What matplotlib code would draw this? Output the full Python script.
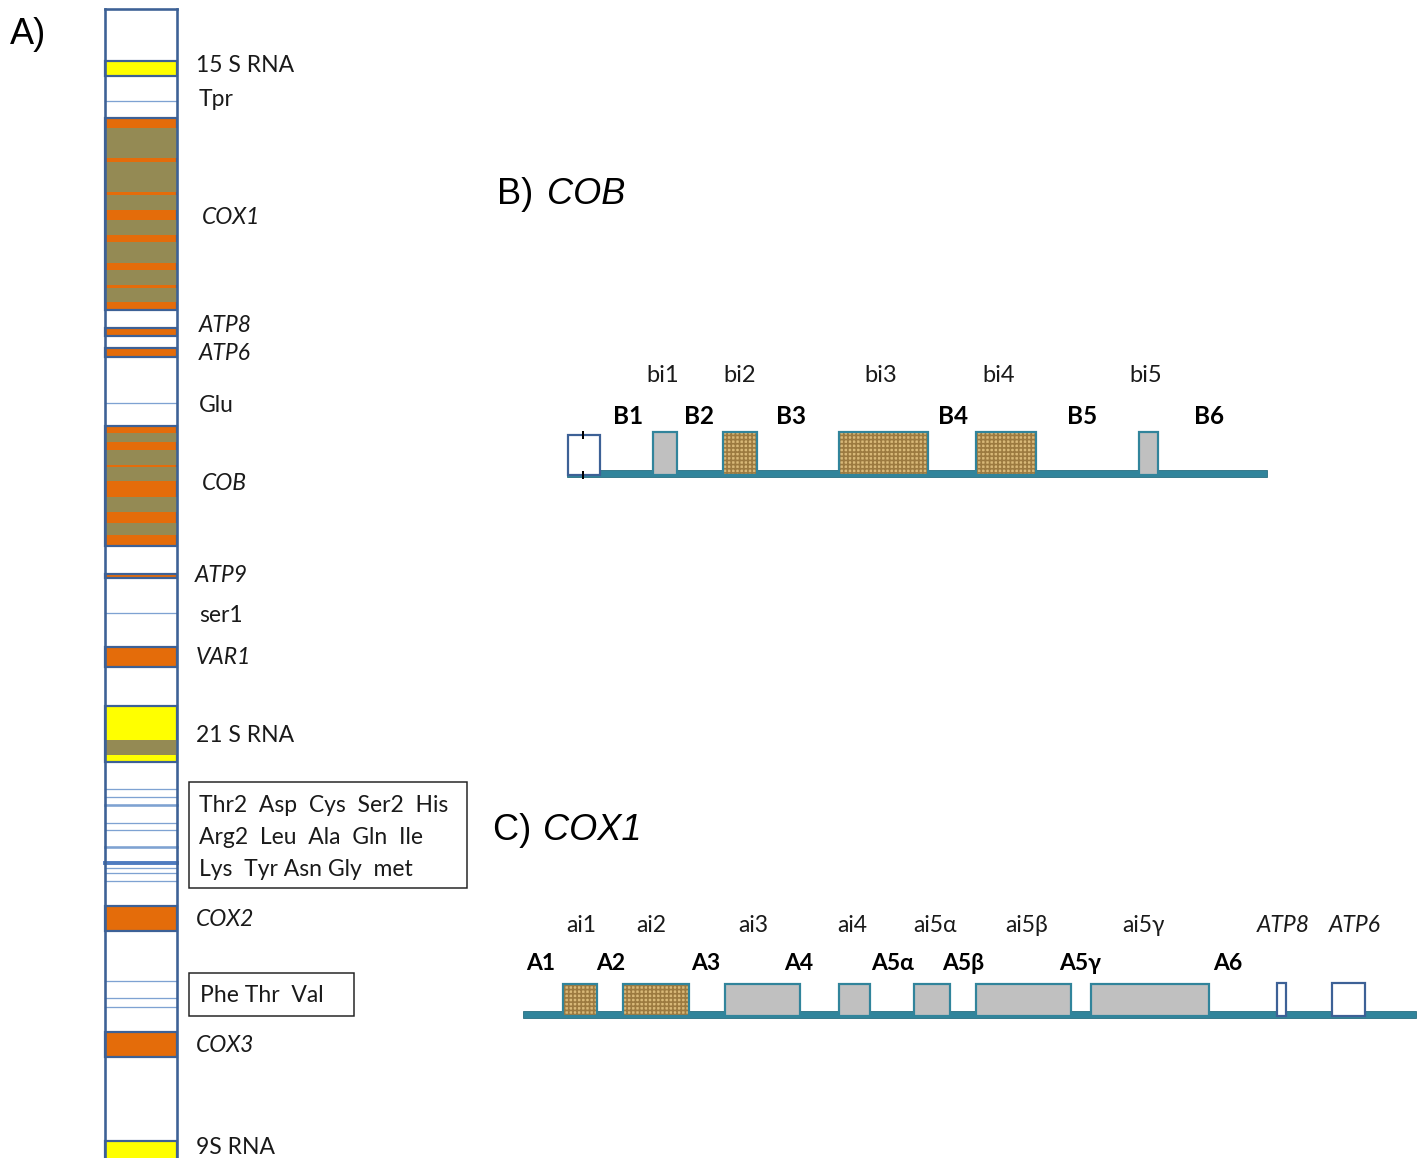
import matplotlib
matplotlib.use("Agg")
import matplotlib.pyplot as plt
from matplotlib.patches import Rectangle

# ---- data -------------------------------------------------------------
# A) mitochondrial map, coordinates along the bar (pixel units of the map)
gene_names = ['15S', 'COX1', 'ATP8', 'ATP6', 'COB', 'ATP9', 'VAR1', '21S', 'COX2', 'COX3', '9S']
gene_start = [61, 118, 328, 348, 426, 574, 647, 706, 906, 1032, 1141]
gene_end = [76, 310, 336, 357, 546, 578, 667, 762, 931, 1057, 1162]
gene_kind = ['rna', 'protein', 'protein', 'protein', 'protein', 'protein', 'protein',
             'rna', 'protein', 'protein', 'rna']

# intron stripes inside genes (start, end)
intron_start = [128, 162, 195, 220, 242, 270, 288, 433, 450, 467, 497, 523, 740]
intron_end = [158, 192, 210, 235, 263, 285, 302, 442, 465, 481, 512, 535, 755]

# tRNA genes (thin lines), and their stroke weight
trna_pos = [101, 403, 613, 789, 797, 805, 823, 830, 847, 863, 868, 873, 881, 981, 998, 1007]
trna_weight = [1, 1, 1, 1, 1, 2, 1, 1, 2, 3, 1, 1, 1, 1, 1, 1]

map_labels = ['15 S RNA', 'Tpr', 'COX1', 'ATP8', 'ATP6', 'Glu', 'COB', 'ATP9',
              'ser1', 'VAR1', '21 S RNA', 'COX2', 'COX3', '9S RNA']
map_label_italic = [False, False, True, True, True, False, True, True,
                    False, True, False, True, True, False]
trna_box1 = ['Thr2  Asp  Cys  Ser2  His', 'Arg2  Leu  Ala  Gln  Ile', 'Lys  Tyr Asn Gly  met']
trna_box2 = ['Phe Thr  Val']

# B) COB gene
cob_exons = ['B1', 'B2', 'B3', 'B4', 'B5', 'B6']
cob_introns = ['bi1', 'bi2', 'bi3', 'bi4', 'bi5']
cob_intron_start = [653, 723, 839, 976, 1139]
cob_intron_end = [677, 757, 928, 1036, 1158]
cob_intron_orf = [False, True, True, True, False]

# C) COX1 gene
cox1_exons = ['A1', 'A2', 'A3', 'A4', 'A5α', 'A5β', 'A5γ', 'A6']
cox1_introns = ['ai1', 'ai2', 'ai3', 'ai4', 'ai5α', 'ai5β', 'ai5γ']
cox1_intron_start = [563, 623, 725, 839, 914, 976, 1091]
cox1_intron_end = [597, 689, 800, 870, 950, 1071, 1209]
cox1_intron_orf = [True, True, False, False, False, False, False]
cox1_next_genes = ['ATP8', 'ATP6']
cox1_next_start = [1277, 1332]
cox1_next_end = [1286, 1365]

# ---- styles -----------------------------------------------------------
ORANGE = '#E46C0A'
OLIVE = '#948A54'
YELLOW = '#FFFF00'
NAVY = '#3D6196'
LIGHTBLUE = '#7EA2D2'
TEAL = '#31849B'
GRAY = '#C0C0C0'
BURLAP = '#D8B878'
BURLAP_DARK = '#9C7A40'
PX = 0.72  # one pixel in points at dpi 100

plt.rcParams['hatch.linewidth'] = 1.2
FONT = ['Lato', 'DejaVu Sans']

fig = plt.figure(figsize=(14.26, 11.58), dpi=100)
ax = fig.add_axes([0, 0, 1, 1])
ax.set_xlim(0, 1426)
ax.set_ylim(1158, 0)
ax.axis('off')

# ---- A) map bar -------------------------------------------------------
bx0, bx1 = 105, 177
ax.add_patch(Rectangle((bx0, 9), bx1 - bx0, 1160, fc='white', ec='none', zorder=1))
for y, w in zip(trna_pos, trna_weight):
    ax.plot([bx0, bx1], [y, y], color=LIGHTBLUE if w < 3 else '#4F7CC0',
            lw=w * 1.3 * PX, zorder=2)
for s, e, k in zip(gene_start, gene_end, gene_kind):
    ax.add_patch(Rectangle((bx0, s), bx1 - bx0, e - s,
                           fc=YELLOW if k == 'rna' else ORANGE,
                           ec=NAVY, lw=2.2 * PX, zorder=3))
for s, e in zip(intron_start, intron_end):
    ax.add_patch(Rectangle((bx0, s), bx1 - bx0, e - s, fc=OLIVE, ec='none', zorder=4))
ax.plot([bx0, bx0], [9, 1170], color=NAVY, lw=2.6 * PX, zorder=5)
ax.plot([bx1, bx1], [9, 1170], color=NAVY, lw=2.6 * PX, zorder=5)
ax.plot([bx0, bx1], [9, 9], color=NAVY, lw=2.6 * PX, zorder=5)

label_x = [196, 199, 202, 199, 199, 199, 202, 195, 199, 196, 196, 196, 196, 196]
label_y = [66, 99, 217, 325, 353, 405, 484, 576, 615, 657, 736, 920, 1046, 1147]
for t, it, x, y in zip(map_labels, map_label_italic, label_x, label_y):
    ax.text(x, y, t, fontsize=16.5, family=FONT, style='italic' if it else 'normal',
            ha='left', va='center', color='#1a1a1a')

ax.add_patch(Rectangle((189, 782), 278, 106, fc='none', ec='#222222', lw=1.5 * PX))
for i, t in enumerate(trna_box1):
    ax.text(199, 805 + 32 * i, t, fontsize=16.5, family=FONT, ha='left', va='center',
            color='#1a1a1a')
ax.add_patch(Rectangle((189, 973), 165, 43, fc='none', ec='#222222', lw=1.5 * PX))
ax.text(200, 996, trna_box2[0], fontsize=16.5, family=FONT, ha='left', va='center',
        color='#1a1a1a')

ax.text(10, 34, 'A)', fontsize=26, family='Liberation Sans', ha='left', va='center')


# ---- gene structure helper ------------------------------------------------
def draw_intron(x0, x1, top, bottom, orf):
    if orf:
        ax.add_patch(Rectangle((x0, top), x1 - x0, bottom - top, fc=BURLAP,
                               ec=BURLAP_DARK, lw=0, hatch='++++', zorder=3))
        ax.add_patch(Rectangle((x0, top), x1 - x0, bottom - top, fc='none',
                               ec=TEAL, lw=2.2 * PX, zorder=4))
    else:
        ax.add_patch(Rectangle((x0, top), x1 - x0, bottom - top, fc=GRAY,
                               ec=TEAL, lw=2.2 * PX, zorder=3))


def draw_backbone(x0, x1, y):
    ax.add_patch(Rectangle((x0, y - 3.5), x1 - x0, 7, fc=TEAL, ec='#236A7C',
                           lw=0.8 * PX, zorder=2))


# ---- B) COB -------------------------------------------------------------
ax.text(497, 195, 'B) ', fontsize=26, family='Liberation Sans', ha='left', va='center')
ax.text(547, 195, 'COB', fontsize=26, family='Liberation Sans', style='italic',
        ha='left', va='center')
draw_backbone(567, 1267, 473)
ax.add_patch(Rectangle((568, 435), 32, 40, fc='white', ec=NAVY, lw=2.2 * PX, zorder=3))
ax.plot([583, 583], [432, 438], color='black', lw=2 * PX, zorder=4)
ax.plot([583, 583], [472, 478], color='black', lw=2 * PX, zorder=4)
for s, e, orf in zip(cob_intron_start, cob_intron_end, cob_intron_orf):
    draw_intron(s, e, 432, 475, orf)

bi_x = [663, 740, 881, 999, 1146]
for t, x in zip(cob_introns, bi_x):
    ax.text(x, 375, t, fontsize=17, family=FONT, ha='center', va='center', color='#1a1a1a')
b_x = [628, 699, 791, 953, 1082, 1209]
for t, x in zip(cob_exons, b_x):
    ax.text(x, 416, t, fontsize=17.5, family=FONT, weight='bold', ha='center',
            va='center', color='black')

# ---- C) COX1 ------------------------------------------------------------
ax.text(493, 831, 'C) ', fontsize=26, family='Liberation Sans', ha='left', va='center')
ax.text(543, 831, 'COX1', fontsize=26, family='Liberation Sans', style='italic',
        ha='left', va='center')
draw_backbone(523, 1416, 1014)
for s, e, orf in zip(cox1_intron_start, cox1_intron_end, cox1_intron_orf):
    draw_intron(s, e, 984, 1016, orf)
for s, e in zip(cox1_next_start, cox1_next_end):
    ax.add_patch(Rectangle((s, 983), e - s, 33, fc='white', ec=NAVY, lw=2.2 * PX,
                           zorder=3))

ai_x = [581, 651, 753, 852, 935, 1027, 1143]
for t, x in zip(cox1_introns, ai_x):
    ax.text(x, 925, t, fontsize=16.5, family=FONT, ha='center', va='center', color='#1a1a1a')
for t, x in zip(cox1_next_genes, [1283, 1355]):
    ax.text(x, 925, t, fontsize=16.5, family=FONT, style='italic', ha='center',
            va='center', color='#1a1a1a')
a_x = [541, 611, 706, 799, 893, 963, 1080, 1228]
for t, x in zip(cox1_exons, a_x):
    ax.text(x, 964, t, fontsize=16.5, family=FONT, weight='bold', ha='center',
            va='center', color='black')

fig.savefig('out.png', dpi=100)
